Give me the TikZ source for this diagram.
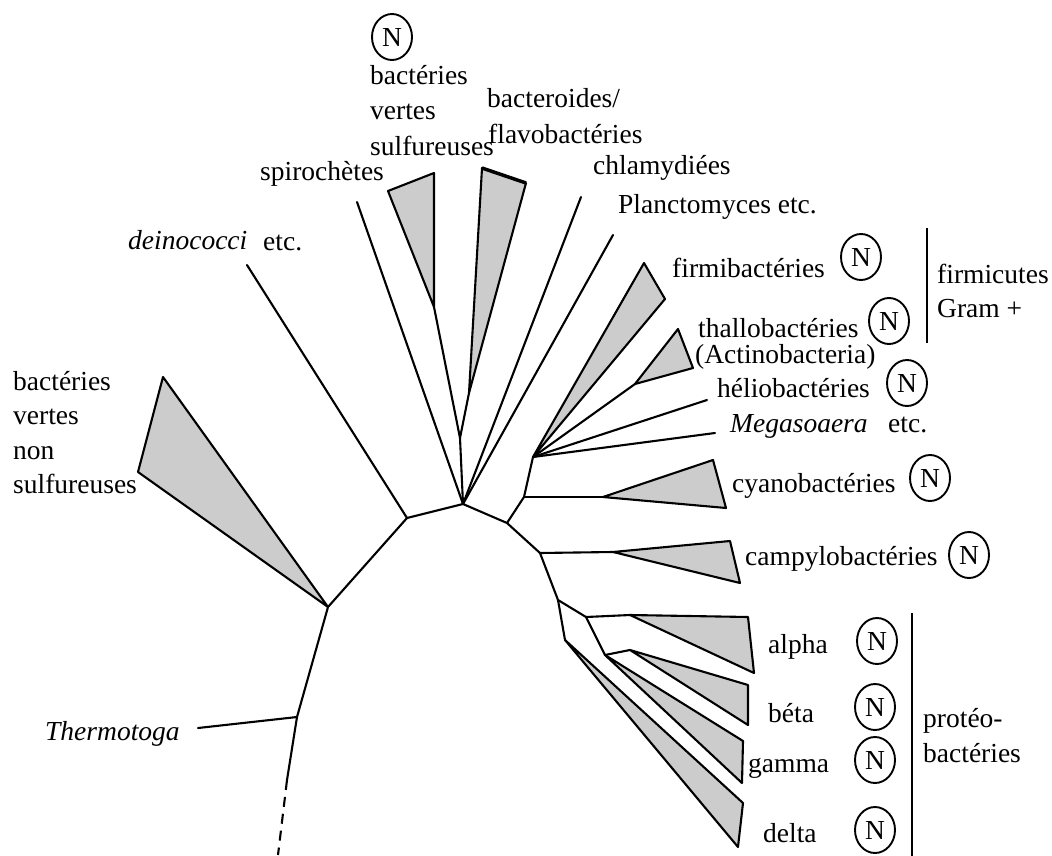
\documentclass[tikz,border=0pt]{standalone}
\usepackage{fontspec}
\setmainfont{Liberation Serif}
\usetikzlibrary{shapes.geometric}
\definecolor{cladegray}{RGB}{204,204,204}
\begin{document}
\begin{tikzpicture}[x=1pt,y=-1pt,
  branch/.style={line width=2.1pt, line join=round, line cap=round},
  clade/.style={draw, fill=cladegray, line width=2.1pt, line join=round},
  lab/.style={anchor=base west, inner sep=0pt, font=\fontsize{27.5}{34}\selectfont},
  nfix/.style={draw, ellipse, minimum width=40pt, minimum height=46pt, inner sep=0pt, line width=1.9pt, font=\fontsize{27.5}{34}\selectfont},
  bar/.style={line width=2.1pt}
]
\useasboundingbox (0,0) rectangle (1052,856);

% ---------- branch points ----------
\coordinate (root) at (278,855);
\coordinate (rs) at (287,780);
\coordinate (T) at (297,717);
\coordinate (TE) at (198,728);
\coordinate (G) at (328,607);
\coordinate (F) at (407,518);
\coordinate (DE) at (247,265);
\coordinate (H) at (463,504);
\coordinate (SE) at (357,202);
\coordinate (Q) at (460,438);
\coordinate (GS) at (434,307);
\coordinate (BA) at (469,393);
\coordinate (CE) at (581,197);
\coordinate (PE) at (613,235);
\coordinate (L) at (507,523);
\coordinate (K) at (524,497);
\coordinate (J) at (533,457);
\coordinate (TA) at (635,384);
\coordinate (HE) at (707,400);
\coordinate (ME) at (715,433);
\coordinate (CY) at (603,497);
\coordinate (M) at (540,553);
\coordinate (CA) at (613,552);
\coordinate (N0) at (558,600);
\coordinate (P1) at (586,617);
\coordinate (P2) at (565,640);
\coordinate (P3) at (605,655);
\coordinate (AL) at (630,615);
\coordinate (BE) at (630,650);

% ---------- clades (triangles) ----------
\draw[clade] (G) -- (163,377) -- (138,472) -- cycle;
\draw[clade] (GS) -- (388,191) -- (434,173) -- cycle;
\draw[clade] (BA) -- (482,168) -- (526,183) -- cycle;
\draw[line width=3.5pt] (482,168) -- (526,183);
\draw[clade] (J) -- (644,263) -- (665,299) -- cycle;
\draw[clade] (TA) -- (678,329) -- (693,368) -- cycle;
\draw[clade] (CY) -- (713,460) -- (726,508) -- cycle;
\draw[clade] (CA) -- (730,541) -- (740,583) -- cycle;
\draw[clade] (AL) -- (748,617) -- (754,673) -- cycle;
\draw[clade] (BE) -- (748,685) -- (748,725) -- cycle;
\draw[clade] (P3) -- (743,741) -- (742,783) -- cycle;
\draw[clade] (P2) -- (743,803) -- (738,847) -- cycle;

% ---------- branches ----------
\draw[branch, line cap=butt, dash pattern=on 10pt off 7pt] (rs) -- (root);
\draw[branch] (rs) -- (T) -- (G) -- (F) -- (H) -- (L) -- (M) -- (N0);
\draw[branch] (T) -- (TE);
\draw[branch] (F) -- (DE);
\draw[branch] (H) -- (SE);
\draw[branch] (H) -- (Q) -- (GS);
\draw[branch] (Q) -- (BA);
\draw[branch] (H) -- (CE);
\draw[branch] (H) -- (PE);
\draw[branch] (L) -- (K) -- (J);
\draw[branch] (J) -- (TA);
\draw[branch] (J) -- (HE);
\draw[branch] (J) -- (ME);
\draw[branch] (K) -- (CY);
\draw[branch] (M) -- (CA);
\draw[branch] (N0) -- (P1) -- (P3);
\draw[branch] (N0) -- (P2);
\draw[branch] (P1) -- (AL);
\draw[branch] (P3) -- (BE);

% ---------- brackets ----------
\coordinate (fb1) at (927,228);
\coordinate (fb2) at (927,343);
\draw[bar] (fb1) -- (fb2);
\coordinate (pb1) at (912,613);
\coordinate (pb2) at (912,856);
\draw[bar] (pb1) -- (pb2);

% ---------- labels ----------
\node[nfix] (ntop) at (392,37) {N};
\node[lab] (gs1) at (370,85) {bactéries};
\node[lab] (gs2) at (370,120) {vertes};
\node[lab] (gs3) at (370,155) {sulfureuses};
\node[lab] (bf1) at (487,108) {bacteroides/};
\node[lab] (bf2) at (488,143) {flavobactéries};
\node[lab] (spi) at (260,180) {spirochètes};
\node[lab] (chl) at (593,175) {chlamydiées};
\node[lab] (pla) at (618,213) {Planctomyces etc.};
\node[lab] (dei) at (128,249) {\itshape deinococci};
\node[lab] (deietc) at (263,250) {etc.};
\node[lab] (ns1) at (13,390) {bactéries};
\node[lab] (ns2) at (13,424) {vertes};
\node[lab] (ns3) at (13,459) {non};
\node[lab] (ns4) at (13,493) {sulfureuses};
\node[lab] (thg) at (45,740) {\itshape Thermotoga};

\node[lab] (fir) at (672,277) {firmibactéries};
\node[nfix] (nfir) at (861,257) {N};
\node[lab] (fc1) at (937,283) {firmicutes};
\node[lab] (fc2) at (937,317) {Gram +};
\node[lab] (tha1) at (698,337) {thallobactéries};
\node[nfix] (ntha) at (889,321) {N};
\node[lab] (tha2) at (695,363) {(Actinobacteria)};
\node[lab] (hel) at (717,397) {héliobactéries};
\node[nfix] (nhel) at (907,383) {N};
\node[lab] (meg) at (730,432) {\itshape Megasoaera};
\node[lab] (megetc) at (888,432) {etc.};
\node[lab] (cya) at (732,492) {cyanobactéries};
\node[nfix] (ncya) at (930,478) {N};
\node[lab] (cam) at (745,565) {campylobactéries};
\node[nfix] (ncam) at (969,555) {N};
\node[lab] (alp) at (768,653) {alpha};
\node[nfix] (nalp) at (877,641) {N};
\node[lab] (bet) at (768,722) {béta};
\node[nfix] (nbet) at (875,707) {N};
\node[lab] (gam) at (748,772) {gamma};
\node[nfix] (ngam) at (875,760) {N};
\node[lab] (del) at (763,842) {delta};
\node[nfix] (ndel) at (875,830) {N};
\node[lab] (pr1) at (923,727) {protéo-};
\node[lab] (pr2) at (923,762) {bactéries};
\end{tikzpicture}
\end{document}
